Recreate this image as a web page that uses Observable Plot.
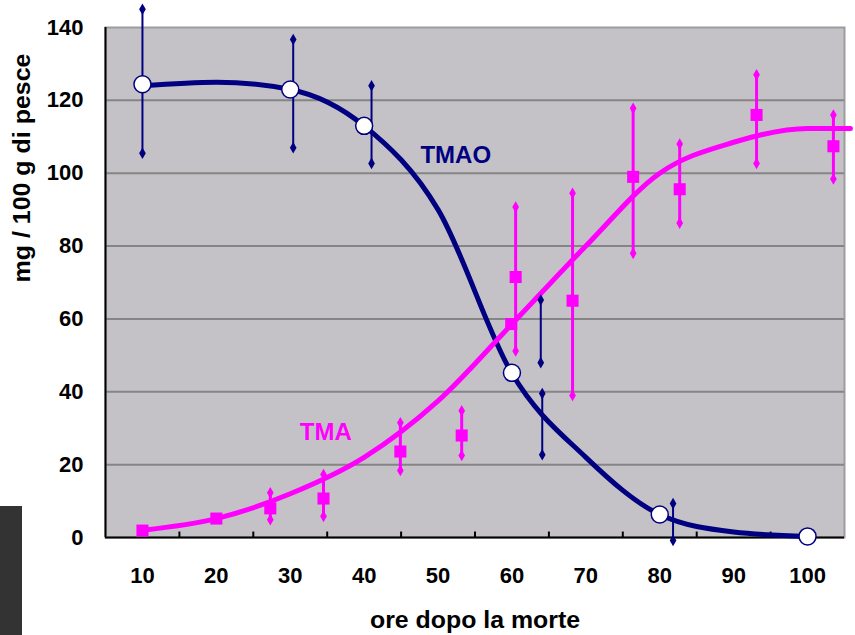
<!DOCTYPE html>
<html>
<head>
<meta charset="utf-8">
<script src="https://cdn.jsdelivr.net/npm/d3@7"></script>
<script src="https://cdn.jsdelivr.net/npm/@observablehq/plot@0.6"></script>
<style>
  html, body { margin: 0; padding: 0; background: #ffffff; }
  #wrap { position: relative; width: 855px; height: 635px; overflow: hidden; }
  #corner { position: absolute; left: 0; top: 506px; width: 22px; height: 129px; background: #333333; }
  svg text { font-family: "Liberation Sans", Arial, sans-serif; }
</style>
</head>
<body>
<div id="wrap"><div id="chart"></div><div id="corner"></div></div>
<script>
// ---- data ----
const xTickLabels = [10, 20, 30, 40, 50, 60, 70, 80, 90, 100];
const xTickMarks = [15, 25, 35, 45, 55, 65, 75, 85, 95];
const yTickLabels = [0, 20, 40, 60, 80, 100, 120, 140];
const yGrid = [20, 40, 60, 80, 100, 120];

// TMAO fitted curve
const tmaoCurveX = [10, 20, 30, 40, 50, 60, 70, 80, 90, 100];
const tmaoCurveY = [124, 125, 123, 113, 90, 45, 22, 6.3, 1.5, 0.3];
// TMAO measured points (circles)
const tmaoPointX = [10, 30, 40, 60, 80, 100];
const tmaoPointY = [124.4, 123, 113, 45.2, 6.3, 0.3];
// TMAO error bars
const tmaoErrX  = [10, 30.4, 41, 63.9, 64.1, 81.8];
const tmaoErrLo = [105.5, 107, 102.7, 48, 22.7, -0.8];
const tmaoErrHi = [145, 136.7, 124, 65.2, 39.5, 9.3];

// TMA fitted curve
const tmaCurveX = [10, 20, 30, 40, 50, 60, 70, 80, 90, 100, 105.8];
const tmaCurveY = [2, 5.2, 12, 22, 37.5, 58.6, 80, 100, 108.5, 112.3, 112.3];
// TMA measured points (squares)
const tmaPointX = [10, 20, 27.3, 34.5, 44.9, 53.2, 59.9, 60.5, 68.2, 76.4, 82.7, 93.1, 103.5];
const tmaPointY = [1.9, 5.2, 8, 10.7, 23.6, 28, 58.6, 71.5, 65, 99, 95.6, 116, 107.4];
// TMA error bars
const tmaErrX  = [27.3, 34.5, 44.9, 53.2, 60.5, 68.2, 76.4, 82.7, 93.1, 103.5];
const tmaErrLo = [4.9, 5.8, 18.4, 22.5, 51.2, 39, 78, 86.3, 102.7, 98.4];
const tmaErrHi = [12.3, 17.3, 31.5, 34.8, 90.7, 94.5, 117.8, 108, 127, 116];

const seriesLabels = [
  {name: "TMAO", x: 52.4, y: 104.9, color: "#000080"},
  {name: "TMA", x: 34.8, y: 28.8, color: "#ff00ff"}
];
const xTitle = "ore dopo la morte";
const yTitle = "mg / 100 g di pesce";

// ---- tables ----
const zip2 = (xs, ys) => xs.map((x, i) => ({x, y: ys[i]}));
const tmaoCurve = zip2(tmaoCurveX, tmaoCurveY);
const tmaoPts = zip2(tmaoPointX, tmaoPointY);
const tmaoErr = tmaoErrX.map((x, i) => ({x, lo: tmaoErrLo[i], hi: tmaoErrHi[i]}));
const tmaCurve = zip2(tmaCurveX, tmaCurveY);
const tmaPts = zip2(tmaPointX, tmaPointY);
const tmaErr = tmaErrX.map((x, i) => ({x, lo: tmaErrLo[i], hi: tmaErrHi[i]}));
const caps = (err) => err.flatMap(d => [{x: d.x, y: d.lo}, {x: d.x, y: d.hi}]);

const NAVY = "#000080", MAG = "#ff00ff";

const chart = Plot.plot({
  width: 855,
  height: 635,
  marginLeft: 105,
  marginRight: 11,
  marginTop: 27,
  marginBottom: 98,
  x: {domain: [5, 105], axis: null},
  y: {domain: [0, 140], axis: null},
  style: {background: "#ffffff", overflow: "visible"},
  marks: [
    Plot.frame({fill: "#c4c2c6", stroke: "#9c9c9c", strokeWidth: 2}),
    Plot.ruleY(yGrid, {stroke: "#858585", strokeWidth: 2}),
    Plot.ruleY([0], {stroke: "#000000", strokeWidth: 2}),
    Plot.ruleX([5], {stroke: "#000000", strokeWidth: 2}),
    Plot.ruleX(xTickMarks, {x: d => d, y1: 0, y2: 1.5, stroke: "#000000", strokeWidth: 2}),
    Plot.text(yTickLabels, {y: d => d, text: d => String(d), frameAnchor: "left", dx: -22, textAnchor: "end", fontSize: 22, fontWeight: "bold", fill: "#000000"}),
    Plot.text(xTickLabels, {x: d => d, text: d => String(d), frameAnchor: "bottom", dy: 38, lineAnchor: "middle", fontSize: 22, fontWeight: "bold", fill: "#000000"}),
    // TMAO
    Plot.line(tmaoCurve, {x: "x", y: "y", stroke: NAVY, strokeWidth: 5, curve: "monotone-x"}),
    // TMA
    Plot.line(tmaCurve, {x: "x", y: "y", stroke: MAG, strokeWidth: 5, curve: "monotone-x"}),
    Plot.ruleX(tmaoErr, {x: "x", y1: "lo", y2: "hi", stroke: NAVY, strokeWidth: 2}),
    Plot.dot(caps(tmaoErr), {x: "x", y: "y", symbol: "diamond", r: 3.5, fill: NAVY}),
    Plot.dot(tmaoPts, {x: "x", y: "y", r: 8.5, fill: "#ffffff", stroke: NAVY, strokeWidth: 1.5}),
    Plot.ruleX(tmaErr, {x: "x", y1: "lo", y2: "hi", stroke: MAG, strokeWidth: 3}),
    Plot.dot(caps(tmaErr), {x: "x", y: "y", symbol: "diamond", r: 3.5, fill: MAG}),
    Plot.dot(tmaPts, {x: "x", y: "y", symbol: "square", r: 6.8, fill: MAG}),
    Plot.text(seriesLabels, {x: "x", y: "y", text: "name", fill: "color", fontSize: 24, fontWeight: "bold", lineAnchor: "middle"}),
    Plot.text([xTitle], {text: d => d, frameAnchor: "bottom", dy: 83, lineAnchor: "middle", fontSize: 24, fontWeight: "bold", fill: "#000000"}),
    Plot.text([yTitle], {text: d => d, frameAnchor: "left", dx: -83, rotate: -90, lineAnchor: "middle", fontSize: 24, fontWeight: "bold", fill: "#000000"})
  ]
});
document.getElementById("chart").appendChild(chart);

d3.select(chart).selectAll("text").each(function () {
  const t = this.textContent;
  if (t === xTitle) { this.setAttribute("textLength", 210); this.setAttribute("lengthAdjust", "spacingAndGlyphs"); }
  if (t === yTitle) { this.setAttribute("textLength", 229); this.setAttribute("lengthAdjust", "spacingAndGlyphs"); }
});
</script>
</body>
</html>
